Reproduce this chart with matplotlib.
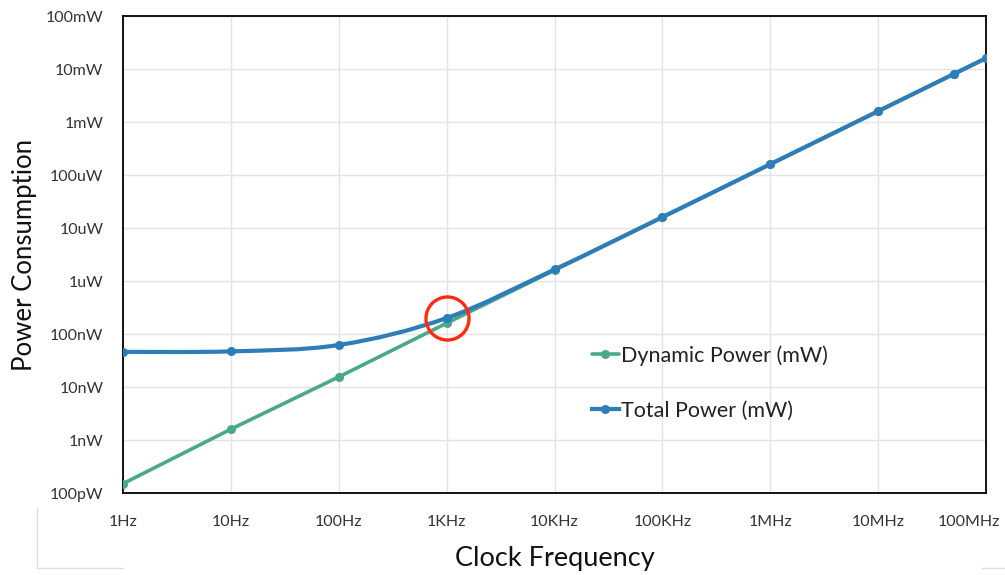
import numpy as np
import matplotlib
matplotlib.use("Agg")
import matplotlib.pyplot as plt
from matplotlib.path import Path
from matplotlib.patches import PathPatch
from matplotlib.lines import Line2D
from matplotlib.transforms import ScaledTranslation

# ---- data (power in mW, frequency in Hz) ----
freq = [1, 10, 100, 1e3, 1e4, 1e5, 1e6, 1e7, 5e7, 1e8]
dynamic_mw = [1.5e-7, 1.6e-6, 1.55e-5, 1.6e-4, 1.6e-3, 1.6e-2, 0.16, 1.6, 8.0, 16.0]
total_mw = [4.6e-5, 4.7e-5, 6.2e-5, 2.0e-4, 1.65e-3, 1.6e-2, 0.16, 1.6, 8.0, 16.0]

x_ticks = [1, 10, 100, 1e3, 1e4, 1e5, 1e6, 1e7, 1e8]
x_labels = ["1Hz", "10Hz", "100Hz", "1KHz", "10KHz", "100KHz", "1MHz", "10MHz", "100MHz"]
y_ticks = [1e-7, 1e-6, 1e-5, 1e-4, 1e-3, 1e-2, 1e-1, 1, 10, 100]
y_labels = ["100pW", "1nW", "10nW", "100nW", "1uW", "10uW", "100uW", "1mW", "10mW", "100mW"]

GREEN = "#4BAA86"
BLUE = "#2E7DB8"
RED = "#FF2A10"
FONT = ["Lato", "DejaVu Sans"]

plt.rcParams["font.family"] = FONT

W, H = 1005, 575
fig = plt.figure(figsize=(W / 100, H / 100), dpi=100)
ax = fig.add_axes([123 / W, 1 - 493 / H, (986 - 123) / W, (493 - 16) / H])
ax.set_xscale("log")
ax.set_yscale("log")
ax.set_xlim(1, 1e8)
ax.set_ylim(1e-7, 100)

ax.grid(True, which="major", color="#E3E3E3", lw=1.0)
ax.minorticks_off()
ax.set_axisbelow(True)

ax.set_xticks(x_ticks)
ax.set_xticklabels(x_labels)
ax.set_yticks(y_ticks)
ax.set_yticklabels(y_labels)
ax.tick_params(axis="both", length=0, labelsize=11.5, colors="#333333")
ax.tick_params(axis="x", pad=16)
ax.tick_params(axis="y", pad=14)
# last x label is pulled inward so it fits (as in the reference)
last = ax.get_xticklabels()[-1]
last.set_transform(last.get_transform() + ScaledTranslation(-17 / 100, 0, fig.dpi_scale_trans))
for s in ax.spines.values():
    s.set_color("black")
    s.set_linewidth(1.3)


def smooth_path(xs, ys):
    """Excel-style smoothed line: cubic Bezier through the points in log-log space."""
    lx, ly = np.log10(xs), np.log10(ys)
    pts = np.column_stack([lx, ly])
    n = len(pts)
    verts = [pts[0]]
    codes = [Path.MOVETO]
    for i in range(n - 1):
        p0 = pts[i - 1] if i > 0 else pts[i]
        p1, p2 = pts[i], pts[i + 1]
        p3 = pts[i + 2] if i + 2 < n else pts[i + 1]
        c1 = p1 + (p2 - p0) / 6.0
        c2 = p2 - (p3 - p1) / 6.0
        verts += [c1, c2, p2]
        codes += [Path.CURVE4] * 3
    verts = 10 ** np.array(verts)
    return Path(verts, codes)


# Dynamic power (straight segments)
ax.plot(freq, dynamic_mw, color=GREEN, lw=2.6, marker="o", ms=5.5,
        label="Dynamic Power (mW)", zorder=3, solid_capstyle="round")
# Total power (smoothed)
ax.add_patch(PathPatch(smooth_path(freq, total_mw), fill=False, ec=BLUE,
                       lw=3.0, zorder=4, capstyle="round"))
ax.plot(freq, total_mw, ls="none", color=BLUE, marker="o", ms=5.5, zorder=5)
ax.plot([], [], color=BLUE, lw=3.0, marker="o", ms=5.5, label="Total Power (mW)")

# red highlight circle at 1 KHz
ax.plot([freq[3]], [total_mw[3]], ls="none", marker="o", ms=31, mfc="none",
        mec=RED, mew=2.4, zorder=6)

leg = ax.legend(loc="upper left", bbox_to_anchor=(592 / W, 1 - 345 / H),
                bbox_transform=fig.transFigure, frameon=False, fontsize=15.5,
                handlelength=1.25, handletextpad=0.12, labelspacing=1.62,
                borderpad=0, borderaxespad=0)
for t in leg.get_texts():
    t.set_color("#222222")

ax.set_xlabel("Clock Frequency", fontsize=19.5, color="#111111", labelpad=12)
ax.set_ylabel("Power Consumption", fontsize=18.5, color="#111111", labelpad=6)

# faint chart-border remnants
for xs, ys in [([37, 37], [508, 568]), ([37, 123], [568, 568]), ([982, 1005], [568, 568])]:
    fig.add_artist(Line2D([x / W for x in xs], [1 - y / H for y in ys],
                          transform=fig.transFigure, color="#DCDCDC", lw=1.0))

fig.savefig("out.png", dpi=100)
